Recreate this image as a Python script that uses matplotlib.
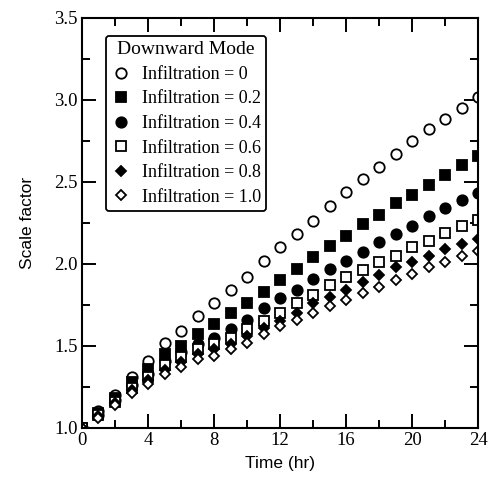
import matplotlib
matplotlib.use("Agg")
import matplotlib.pyplot as plt
from matplotlib.ticker import MultipleLocator

# time in hours
hours = list(range(25))

# scale factor, one list per infiltration level
inf_00 = [1.00, 1.10, 1.20, 1.31, 1.41, 1.52, 1.59, 1.68, 1.76, 1.84, 1.92, 2.02, 2.10,
          2.18, 2.26, 2.35, 2.44, 2.52, 2.59, 2.67, 2.75, 2.82, 2.88, 2.95, 3.02]
inf_02 = [1.00, 1.09, 1.18, 1.28, 1.36, 1.45, 1.50, 1.57, 1.63, 1.70, 1.76, 1.83, 1.90,
          1.97, 2.04, 2.11, 2.17, 2.24, 2.30, 2.37, 2.42, 2.48, 2.54, 2.60, 2.66]
inf_04 = [1.00, 1.08, 1.17, 1.26, 1.33, 1.41, 1.46, 1.51, 1.55, 1.60, 1.66, 1.73, 1.79,
          1.84, 1.91, 1.97, 2.02, 2.07, 2.13, 2.18, 2.23, 2.29, 2.34, 2.39, 2.43]
inf_06 = [1.00, 1.08, 1.16, 1.24, 1.31, 1.38, 1.43, 1.48, 1.51, 1.55, 1.60, 1.65, 1.70,
          1.76, 1.81, 1.87, 1.92, 1.96, 2.01, 2.05, 2.10, 2.14, 2.19, 2.23, 2.27]
inf_08 = [1.00, 1.07, 1.15, 1.23, 1.29, 1.35, 1.40, 1.45, 1.48, 1.51, 1.56, 1.61, 1.65,
          1.70, 1.76, 1.80, 1.84, 1.89, 1.93, 1.98, 2.01, 2.05, 2.09, 2.12, 2.15]
inf_10 = [1.00, 1.06, 1.14, 1.21, 1.27, 1.33, 1.37, 1.42, 1.44, 1.48, 1.52, 1.57, 1.62,
          1.66, 1.70, 1.74, 1.78, 1.82, 1.86, 1.90, 1.94, 1.98, 2.01, 2.05, 2.08]

labels = ["Infiltration = 0", "Infiltration = 0.2", "Infiltration = 0.4",
          "Infiltration = 0.6", "Infiltration = 0.8", "Infiltration = 1.0"]

series = [inf_00, inf_02, inf_04, inf_06, inf_08, inf_10]
# (marker, filled)
styles = [("o", False), ("s", True), ("o", True), ("s", False), ("D", True), ("D", False)]

fig = plt.figure(figsize=(4.88, 4.94), dpi=100)
ax = fig.add_axes([0.168, 0.134, 0.812, 0.830])

for vals, lab, (mk, filled) in zip(series, labels, styles):
    size = 7.5 if mk == "o" else (7.0 if mk == "s" else 5.5)
    ax.plot(hours, vals, linestyle="none", marker=mk, markersize=size,
            markerfacecolor="black" if filled else "white",
            markeredgecolor="black", markeredgewidth=1.3, label=lab)

ax.set_xlim(0, 24)
ax.set_ylim(1.0, 3.5)
ax.xaxis.set_major_locator(MultipleLocator(4))
ax.xaxis.set_minor_locator(MultipleLocator(2))
ax.yaxis.set_major_locator(MultipleLocator(0.5))
ax.yaxis.set_minor_locator(MultipleLocator(0.25))
ax.yaxis.set_major_formatter(plt.FormatStrFormatter("%.1f"))

ax.tick_params(which="both", direction="in", top=True, right=True, width=1.4,
               labelsize=13.5, pad=3)
ax.tick_params(which="major", length=10)
ax.tick_params(which="minor", length=6)
for lab in ax.get_xticklabels() + ax.get_yticklabels():
    lab.set_family("Liberation Serif")
for sp in ax.spines.values():
    sp.set_linewidth(1.5)

ax.set_xlabel("Time (hr)", family="Liberation Sans", fontsize=12.5, labelpad=5)
ax.set_ylabel("Scale factor", family="Liberation Sans", fontsize=12.5, labelpad=14)

leg = ax.legend(loc="upper left", bbox_to_anchor=(0.06, 0.956), borderaxespad=0,
                title="Downward Mode", frameon=True, fancybox=True,
                prop={"family": "Liberation Serif", "size": 13},
                handletextpad=0.6, labelspacing=0.42, handlelength=1.1,
                borderpad=0.3)
leg.get_title().set_family("Liberation Serif")
leg.get_title().set_fontsize(14)
leg.get_frame().set_edgecolor("black")
leg.get_frame().set_linewidth(1.3)
leg.get_frame().set_alpha(1)

fig.savefig("out.png", dpi=100)
